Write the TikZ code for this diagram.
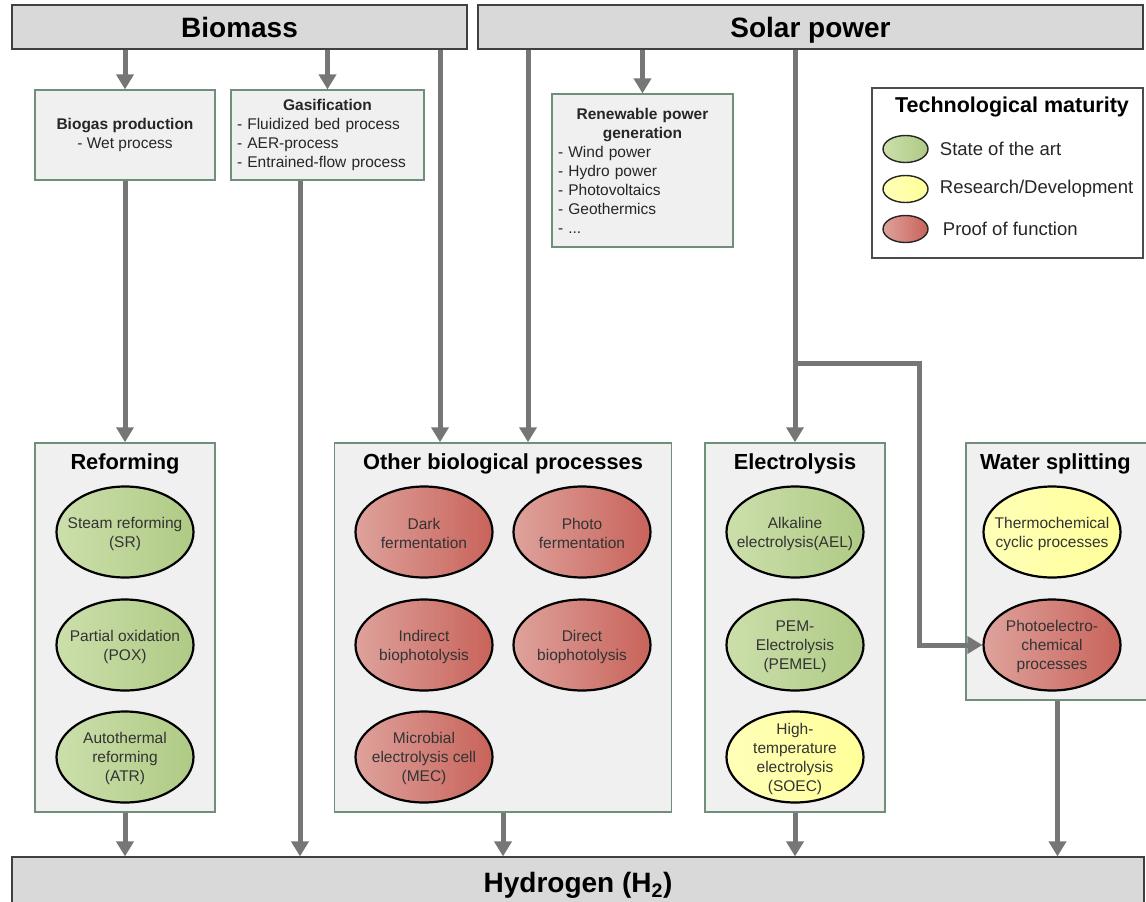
\documentclass[tikz,border=0pt]{standalone}
\usepackage{fontspec}
\setmainfont{Liberation Sans}
\usetikzlibrary{arrows.meta,shapes.geometric,positioning}

\definecolor{srcfill}{HTML}{D9D9D9}
\definecolor{boxfill}{HTML}{F0F0F0}
\definecolor{boxline}{HTML}{6F8F7B}
\definecolor{flowgray}{HTML}{767676}
\definecolor{greenL}{HTML}{CCDFAB}
\definecolor{greenR}{HTML}{AFCA85}
\definecolor{yellowL}{HTML}{FFFFB8}
\definecolor{yellowR}{HTML}{FFFF99}
\definecolor{redL}{HTML}{DEA29C}
\definecolor{redR}{HTML}{C8635A}

\newcommand{\fs}[2]{\fontsize{#1}{#2}\selectfont}

\tikzset{
  source/.style={draw=black!75, fill=srcfill, line width=1.2pt, inner sep=0pt, text height=20pt, text depth=0pt, font=\fs{28}{32}\bfseries},
  stage/.style={draw=boxline, fill=boxfill, line width=1.2pt, inner sep=0pt, text=black!85, font=\fs{15.5}{19}},
  group/.style={draw=boxline, fill=boxfill, line width=1.5pt, inner sep=0pt},
  grouptitle/.style={font=\fs{21.8}{26}\bfseries},
  proctext/.style={align=center, inner sep=0pt, yshift=-1.5pt, text=black!80, font=\fs{15.5}{19}},
  proc/.style={ellipse, draw=black, line width=2.2pt, minimum width=137pt, minimum height=91pt, inner sep=0pt, label={[proctext]center:#1}},
  sota/.style={proc={#1}, left color=greenL, right color=greenR},
  resdev/.style={proc={#1}, left color=yellowL, right color=yellowR},
  proof/.style={proc={#1}, left color=redL, right color=redR},
  keyoval/.style={ellipse, draw=black!85, line width=1.4pt, minimum width=45pt, minimum height=27pt, inner sep=0pt},
  keytext/.style={anchor=west, inner sep=0pt, text=black!85, font=\fs{18.5}{22}},
  flow/.style={draw=flowgray, line width=5pt, -{Triangle[width=17pt,length=15pt]}},
}

\begin{document}
\begin{tikzpicture}[x=1pt, y=-1pt]
    \useasboundingbox (0,0) rectangle (1146,902);
    % sources
    \node[source, minimum width=455pt, minimum height=44pt] (biomass) at (239.5,27) {Biomass};
    \node[source, minimum width=665pt, minimum height=44pt] (solar) at (810.5,27) {Solar power};
    \node[source, minimum width=1132pt, minimum height=51pt] (hydrogen) at (578,882.5) {Hydrogen (H\textsubscript{2})};
    % intermediate steps
    \node[stage, minimum width=180pt, minimum height=90pt, align=center] (biogas) at (125,135)
        {\textbf{Biogas production}\\- Wet process};
    \node[stage, minimum width=193pt, minimum height=90pt, text width=181pt, align=left] (gasif) at (327.5,135)
        {\makebox[181pt]{\textbf{Gasification}}\\- Fluidized bed process\\- AER-process\\- Entrained-flow process};
    \node[stage, minimum width=181pt, minimum height=153pt, text width=169pt, align=left] (renew) at (642.5,170.5)
        {\makebox[169pt]{\textbf{Renewable power}}\\\makebox[169pt]{\textbf{generation}}\\- Wind power\\- Hydro power\\- Photovoltaics\\- Geothermics\\- ...};
    % legende
    \node[draw=black!70, fill=white, line width=1.4pt, minimum width=271pt, minimum height=170pt] (legend) at (1007.5,173) {};
    \node[font=\fs{21.5}{26}\bfseries] (legendT) at (1012,107) {Technological maturity};
    \node[keyoval, left color=greenL, right color=greenR] (key1) at (905.5,149) {};
    \node[keyoval, left color=yellowL, right color=yellowR] (key2) at (905.5,189) {};
    \node[keyoval, left color=redL, right color=redR] (key3) at (905.5,229) {};
    \node[keytext, right=11pt of key1] (key1T) {State of the art};
    \node[keytext, right=11pt of key2] (key2T) {Research/Development};
    \node[keytext, right=14pt of key3] (key3T) {Proof of function};
    % groups
    \node[group, minimum width=180pt, minimum height=369pt] (reform) at (125,627.5) {};
    \node[group, minimum width=337pt, minimum height=369pt] (other) at (503,627.5) {};
    \node[group, minimum width=180pt, minimum height=369pt] (elec) at (795,627.5) {};
    \node[group, minimum width=183pt, minimum height=257pt] (water) at (1057.5,571.5) {};
    \node[grouptitle] (reformT) at ([yshift=-22pt]reform.north) {Reforming};
    \node[grouptitle] (otherT) at ([yshift=-22pt]other.north) {Other biological processes};
    \node[grouptitle] (elecT) at ([yshift=-22pt]elec.north) {Electrolysis};
    \node[grouptitle] (waterT) at ([yshift=-22pt,xshift=-2pt]water.north) {Water splitting};
    % processes
    \node[sota={Steam reforming\\(SR)}] (sr) at (125,532) {};
    \node[sota={Partial oxidation\\(POX)}] (pox) at (125,645) {};
    \node[sota={Autothermal\\reforming\\(ATR)}] (atr) at (125,757) {};
    \node[proof={Dark\\fermentation}] (dark) at (424,532) {};
    \node[proof={Photo\\fermentation}] (photo) at (582,532) {};
    \node[proof={Indirect\\biophotolysis}] (indirect) at (424,645) {};
    \node[proof={Direct\\biophotolysis}] (direct) at (582,645) {};
    \node[proof={Microbial\\electrolysis cell\\(MEC)}] (mec) at (424,757) {};
    \node[sota={Alkaline\\electrolysis(AEL)}] (ael) at (795,532) {};
    \node[sota={PEM-\\Electrolysis\\(PEMEL)}] (pemel) at (795,645) {};
    \node[resdev={High-\\temperature\\electrolysis\\(SOEC)}] (soec) at (795,757) {};
    \node[resdev={Thermochemical\\cyclic processes}] (thermo) at (1052,532) {};
    \node[proof={Photoelectro-\\chemical\\processes}] (pec) at (1052,645) {};
    % fleches
    \coordinate (bioline) at (440,0);
    \coordinate (solline) at (528,0);
    \coordinate (gasline) at (300,0);
    \coordinate (fork) at (795,363);
    \coordinate (turn) at (919,363);
    \draw[flow] (biomass.south -| biogas.north) -- (biogas.north);
    \draw[flow] (biomass.south -| gasif.north) -- (gasif.north);
    \draw[flow] (biomass.south -| bioline) -- (other.north -| bioline);
    \draw[flow] (solar.south -| solline) -- (other.north -| solline);
    \draw[flow] (solar.south -| renew.north) -- (renew.north);
    \draw[flow] (solar.south -| elec.north) -- (elec.north);
    \draw[flow] (fork) -- (turn) |- (pec.west);
    \draw[flow] (biogas.south) -- (reform.north);
    \draw[flow] (gasif.south -| gasline) -- (hydrogen.north -| gasline);
    \draw[flow] (reform.south) -- (reform.south |- hydrogen.north);
    \draw[flow] (other.south) -- (other.south |- hydrogen.north);
    \draw[flow] (elec.south) -- (elec.south |- hydrogen.north);
    \draw[flow] (water.south) -- (water.south |- hydrogen.north);
\end{tikzpicture}
\end{document}
